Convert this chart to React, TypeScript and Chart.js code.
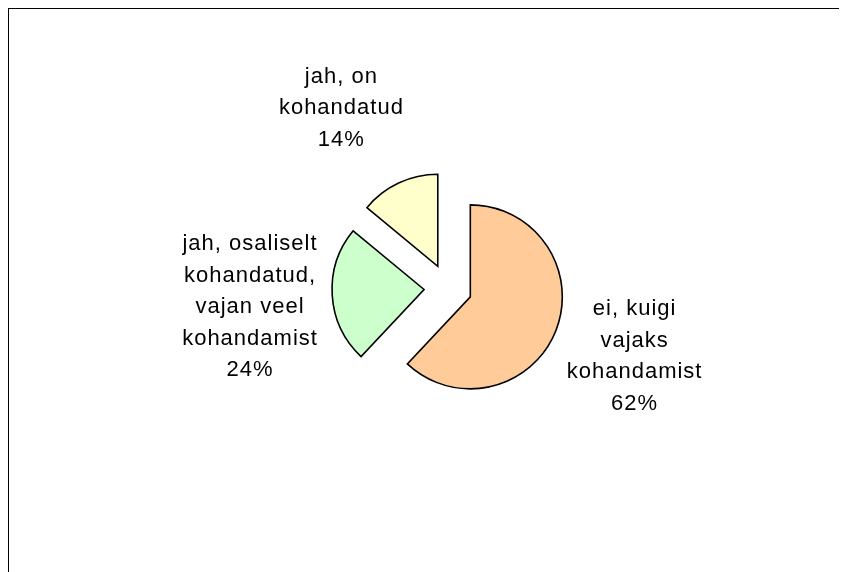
import React, { useEffect, useRef } from "react";
import { Chart, registerables } from "chart.js";

Chart.register(...registerables);

const categories: string[][] = [
  ["ei, kuigi", "vajaks", "kohandamist"],
  ["jah, osaliselt", "kohandatud,", "vajan veel", "kohandamist"],
  ["jah, on", "kohandatud"],
];
const values: number[] = [62, 24, 14];
const percentLabels: string[] = ["62%", "24%", "14%"];
const sliceColors: string[] = ["#FFCC99", "#CCFFCC", "#FFFFCC"];

const EXPLODE = 24;
const LINE_H = 31.5;
const LABEL_GAP = 12;
// manual nudges of the label boxes (like hand-moved Excel labels)
const LABEL_NUDGE: number[][] = [
  [4, -2],
  [-3, 6],
  [-26, -21],
];

const explodedPie = {
  id: "explodedPie",
  beforeDatasetsDraw(chart: any) {
    const ctx = chart.ctx as CanvasRenderingContext2D;
    const meta = chart.getDatasetMeta(0);
    meta.data.forEach((arc: any) => {
      const { startAngle, endAngle } = arc.getProps(["startAngle", "endAngle"], true);
      const mid = (startAngle + endAngle) / 2;
      ctx.save();
      ctx.translate(Math.cos(mid) * EXPLODE, Math.sin(mid) * EXPLODE);
      arc.draw(ctx, chart.chartArea);
      ctx.restore();
    });
    return false;
  },
  afterDraw(chart: any) {
    const ctx = chart.ctx as CanvasRenderingContext2D;
    const meta = chart.getDatasetMeta(0);
    ctx.save();
    ctx.fillStyle = "#000";
    ctx.font = "22px 'Liberation Sans', Arial, sans-serif";
    (ctx as any).letterSpacing = "1px";
    ctx.textAlign = "center";
    ctx.textBaseline = "middle";
    meta.data.forEach((arc: any, i: number) => {
      const { x, y, startAngle, endAngle, outerRadius } = arc.getProps(
        ["x", "y", "startAngle", "endAngle", "outerRadius"],
        true
      );
      const mid = (startAngle + endAngle) / 2;
      const dx = Math.cos(mid);
      const dy = Math.sin(mid);
      const lines = [...categories[i], percentLabels[i]];
      const w = Math.max(...lines.map((t) => ctx.measureText(t).width));
      const h = lines.length * LINE_H;
      const dist = outerRadius + EXPLODE + LABEL_GAP;
      const cx = x + dx * dist + (dx * w) / 2 + LABEL_NUDGE[i][0];
      const cy = y + dy * dist + (dy * h) / 2 + LABEL_NUDGE[i][1];
      const top = cy - ((lines.length - 1) * LINE_H) / 2;
      lines.forEach((t, j) => {
        ctx.fillText(t, cx + 0.5, top + j * LINE_H);
      });
    });
    ctx.restore();
  },
};

export default function App() {
  const ref = useRef<HTMLCanvasElement | null>(null);
  useEffect(() => {
    document.documentElement.style.overflow = "hidden";
    document.body.style.overflow = "hidden";
    if (!ref.current) return;
    const chart = new Chart(ref.current, {
      type: "pie",
      data: {
        labels: categories.map((c) => c.join(" ")),
        datasets: [
          {
            data: values,
            backgroundColor: sliceColors,
            borderColor: "#000",
            borderWidth: 1.6,
            borderJoinStyle: "miter",
            offset: 0,
            hoverOffset: 0,
          } as any,
        ],
      },
      options: {
        responsive: false,
        animation: false,
        radius: 92,
        layout: { padding: { left: 40, right: 0, top: 0, bottom: 5 } },
        plugins: {
          legend: { display: false },
          tooltip: { enabled: false },
        },
      } as any,
      plugins: [explodedPie],
    });
    return () => chart.destroy();
  }, []);
  return (
    <div
      style={{
        width: 900,
        height: 600,
        borderTop: "1px solid #000",
        borderLeft: "1px solid #000",
        boxSizing: "border-box",
        overflow: "hidden",
        background: "#fff",
      }}
    >
      <canvas ref={ref} width={838} height={563} style={{ display: "block" }} />
    </div>
  );
}
